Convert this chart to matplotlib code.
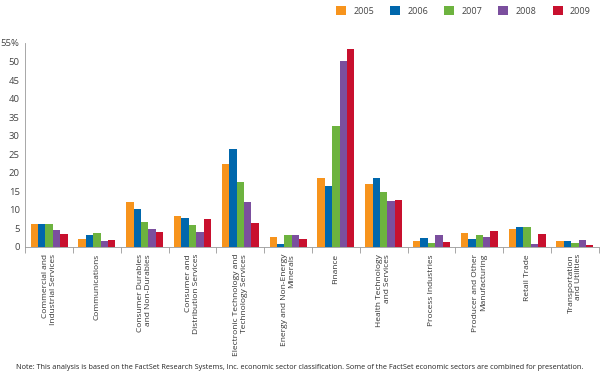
import matplotlib.pyplot as plt
import numpy as np
from matplotlib.patches import Patch

plt.rcParams["font.family"] = ["Open Sans", "DejaVu Sans"]

sectors = [
    "Commercial and\nIndustrial Services",
    "Communications",
    "Consumer Durables\nand Non-Durables",
    "Consumer and\nDistribution Services",
    "Electronic Technology and\nTechnology Services",
    "Energy and Non-Energy\nMinerals",
    "Finance",
    "Health Technology\nand Services",
    "Process Industries",
    "Producer and Other\nManufacturing",
    "Retail Trade",
    "Transportation\nand Utilities",
]
years = ["2005", "2006", "2007", "2008", "2009"]

v2005 = [6.1, 2.2, 12.0, 8.3, 22.3, 2.8, 18.6, 17.0, 1.6, 3.9, 4.9, 1.7]
v2006 = [6.2, 3.1, 10.2, 7.7, 26.4, 0.9, 16.4, 18.6, 2.3, 2.2, 5.5, 1.5]
v2007 = [6.2, 3.7, 6.8, 5.8, 17.6, 3.1, 32.6, 14.9, 1.0, 3.1, 5.3, 1.0]
v2008 = [4.5, 1.6, 4.8, 4.0, 12.0, 3.2, 50.0, 12.3, 3.3, 2.7, 0.9, 2.0]
v2009 = [3.4, 1.8, 4.0, 7.5, 6.6, 2.2, 53.5, 12.6, 1.3, 4.3, 3.4, 0.5]

series = [v2005, v2006, v2007, v2008, v2009]
colors = ["#F7941D", "#0067AC", "#6DB33F", "#7B4F9E", "#C8102E"]

fig = plt.figure(figsize=(6, 3.8), dpi=100)
ax = fig.add_axes([0.042, 0.35, 0.956, 0.537])

x = np.arange(len(sectors))
w = 0.155
for i, (vals, c) in enumerate(zip(series, colors)):
    ax.bar(x + (i - 2) * w, vals, width=w, color=c, linewidth=0)

ax.set_xlim(-0.5, len(sectors) - 0.5)
ax.set_ylim(0, 55)
ax.set_yticks(range(0, 56, 5))
ax.set_yticklabels([str(v) for v in range(0, 51, 5)] + ["55%"])
ax.tick_params(axis="y", length=0, pad=4, labelsize=6.8, labelcolor="#444444")

ax.set_xticks(x)
ax.set_xticklabels(sectors, rotation=90, fontsize=6, color="#333333",
                   va="top", ha="center", multialignment="right")
ax.tick_params(axis="x", length=0, pad=5)
ax.set_xticks(np.arange(-0.5, len(sectors), 1), minor=True)
ax.tick_params(axis="x", which="minor", length=4, color="#999999", width=0.6)

for s in ["top", "right"]:
    ax.spines[s].set_visible(False)
ax.spines["left"].set_color("#999999")
ax.spines["bottom"].set_color("#999999")
ax.spines["left"].set_linewidth(0.6)
ax.spines["bottom"].set_linewidth(0.6)

handles = [Patch(facecolor=c, edgecolor="none") for c in colors]
fig.legend(handles, years, loc="upper right", bbox_to_anchor=(0.998, 1.005),
           ncol=5, frameon=False, fontsize=6.5, handlelength=1.1, handleheight=1.1,
           columnspacing=1.8, handletextpad=0.8, labelcolor="#444444")

fig.text(0.5, 0.032,
         "Note: This analysis is based on the FactSet Research Systems, Inc. economic sector "
         "classification. Some of the FactSet economic sectors are combined for presentation.",
         ha="center", va="center", fontsize=5.2, color="#222222")

fig.savefig("out.png", dpi=100)
